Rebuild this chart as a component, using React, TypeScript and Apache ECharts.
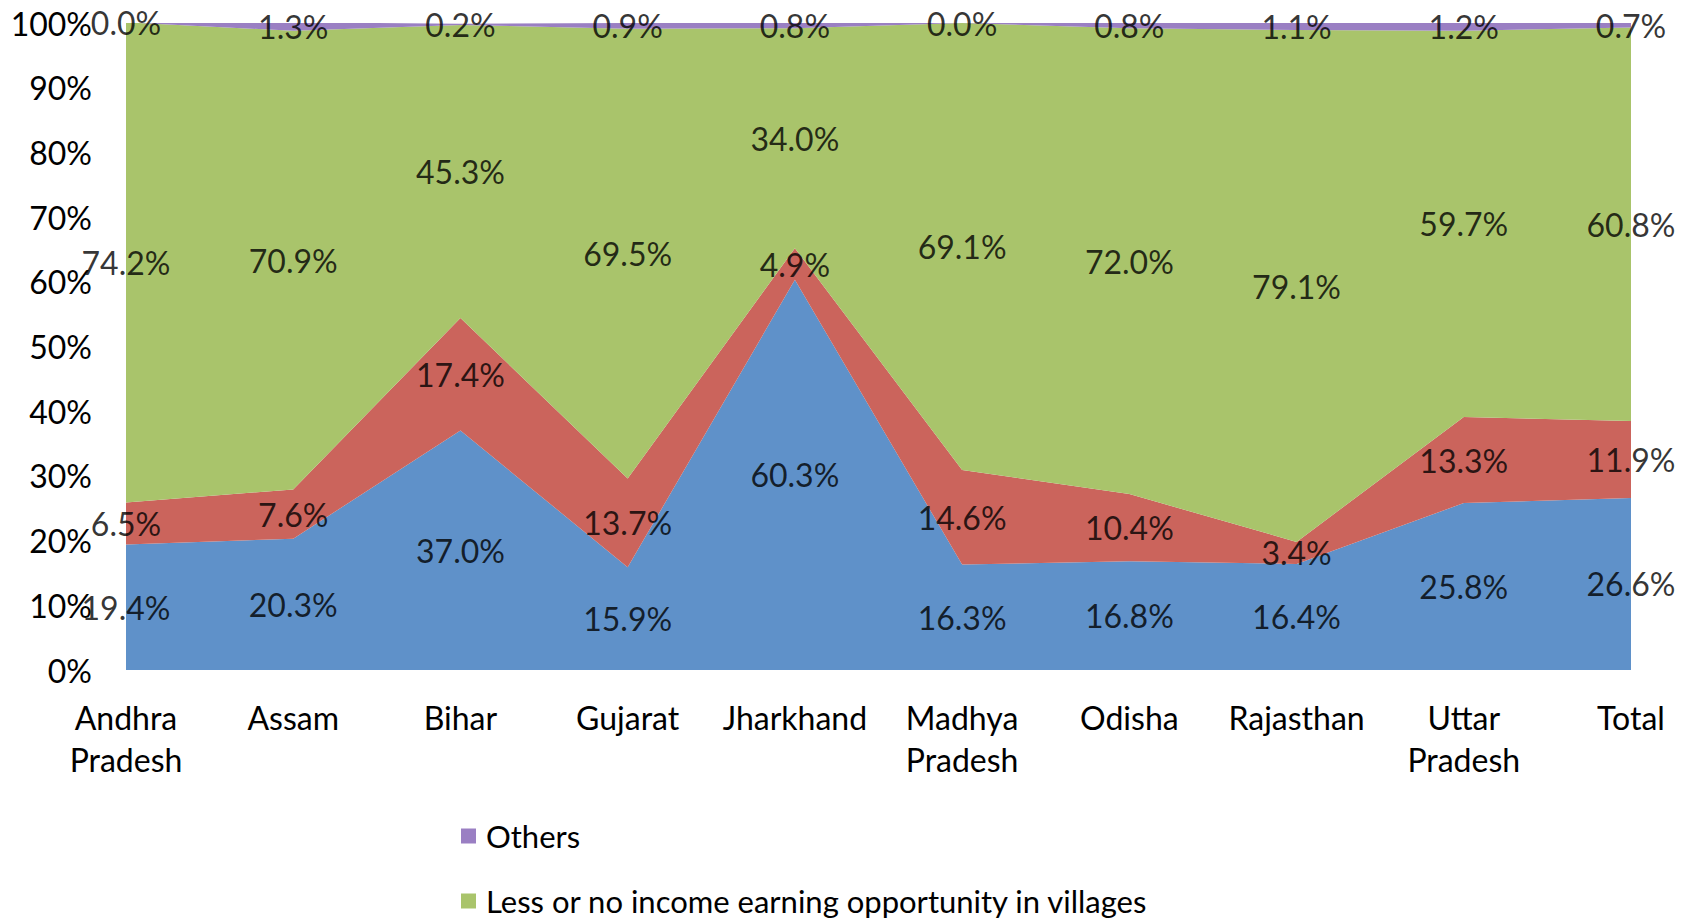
import React, { useEffect, useRef } from "react";
import * as echarts from "echarts";

const categories = [
  "Andhra\nPradesh",
  "Assam",
  "Bihar",
  "Gujarat",
  "Jharkhand",
  "Madhya\nPradesh",
  "Odisha",
  "Rajasthan",
  "Uttar\nPradesh",
  "Total",
];

const seriesNames = [
  "Better income opportunity in cities",
  "Family reasons",
  "Less or no income earning opportunity in villages",
  "Others",
];

const blueValues = [19.4, 20.3, 37.0, 15.9, 60.3, 16.3, 16.8, 16.4, 25.8, 26.6];
const redValues = [6.5, 7.6, 17.4, 13.7, 4.9, 14.6, 10.4, 3.4, 13.3, 11.9];
const greenValues = [74.2, 70.9, 45.3, 69.5, 34.0, 69.1, 72.0, 79.1, 59.7, 60.8];
const purpleValues = [0.0, 1.3, 0.2, 0.9, 0.8, 0.0, 0.8, 1.1, 1.2, 0.7];

const yTicks = [0, 10, 20, 30, 40, 50, 60, 70, 80, 90, 100];

const colors = ["#5F91C9", "#CB645C", "#A9C46B", "#9A7FC3"];

export default function App() {
  const ref = useRef<HTMLDivElement>(null);

  useEffect(() => {
    if (!ref.current) return;
    const chart = echarts.init(ref.current, null, { renderer: "svg" });
    const all = [blueValues, redValues, greenValues, purpleValues];

    const areaSeries = all.map((vals, i) => ({
      name: seriesNames[i],
      type: "line",
      stack: "total",
      data: vals,
      symbol: "none",
      lineStyle: { width: 0 },
      areaStyle: { color: colors[i], opacity: 1 },
      itemStyle: { color: colors[i] },
      z: 2,
    }));

    const labelSeries = all.map((vals, i) => ({
      name: "label" + i,
      type: "scatter",
      symbolSize: 0,
      clip: false,
      silent: true,
      z: 5,
      data: vals.map((v, k) => {
        let base = 0;
        for (let j = 0; j < i; j++) base += all[j][k];
        return [k, base + v / 2, v];
      }),
      label: {
        show: true,
        position: "inside",
        formatter: (p: any) => p.value[2].toFixed(1) + "%",
        fontFamily: "Lato",
        fontSize: 32,
        color: "#000",
      },
    }));

    chart.setOption({
      animation: false,
      textStyle: { fontFamily: "Lato" },
      grid: { left: 126, right: 65, top: 23, bottom: 250, containLabel: false },
      legend: {
        orient: "vertical",
        left: 461,
        top: 818,
        height: 200,
        padding: 0,
        data: ["Others", "Less or no income earning opportunity in villages"],
        icon: "rect",
        itemWidth: 15,
        itemHeight: 15,
        itemGap: 29,
        textStyle: {
          fontFamily: "Lato",
          fontSize: 31,
          color: "#000",
          lineHeight: 36,
          padding: [0, 0, 0, 5],
        },
      },
      xAxis: {
        type: "category",
        data: categories,
        boundaryGap: false,
        axisLine: { show: false },
        axisTick: { show: false },
        axisLabel: {
          interval: 0,
          margin: 26,
          fontFamily: "Lato",
          fontSize: 32,
          lineHeight: 42,
          color: "#000",
        },
      },
      yAxis: {
        type: "value",
        min: yTicks[0],
        max: yTicks[yTicks.length - 1],
        interval: 10,
        axisLine: { show: false },
        axisTick: { show: false },
        splitLine: { show: false },
        axisLabel: {
          margin: 34,
          formatter: "{value}%",
          fontFamily: "Lato",
          fontSize: 32,
          color: "#000",
        },
      },
      series: [...areaSeries, ...labelSeries],
    });
    return () => chart.dispose();
  }, []);

  return (
    <div
      ref={ref}
      style={{ position: "fixed", left: 0, top: 0, width: 1696, height: 920, background: "#fff" }}
    />
  );
}
